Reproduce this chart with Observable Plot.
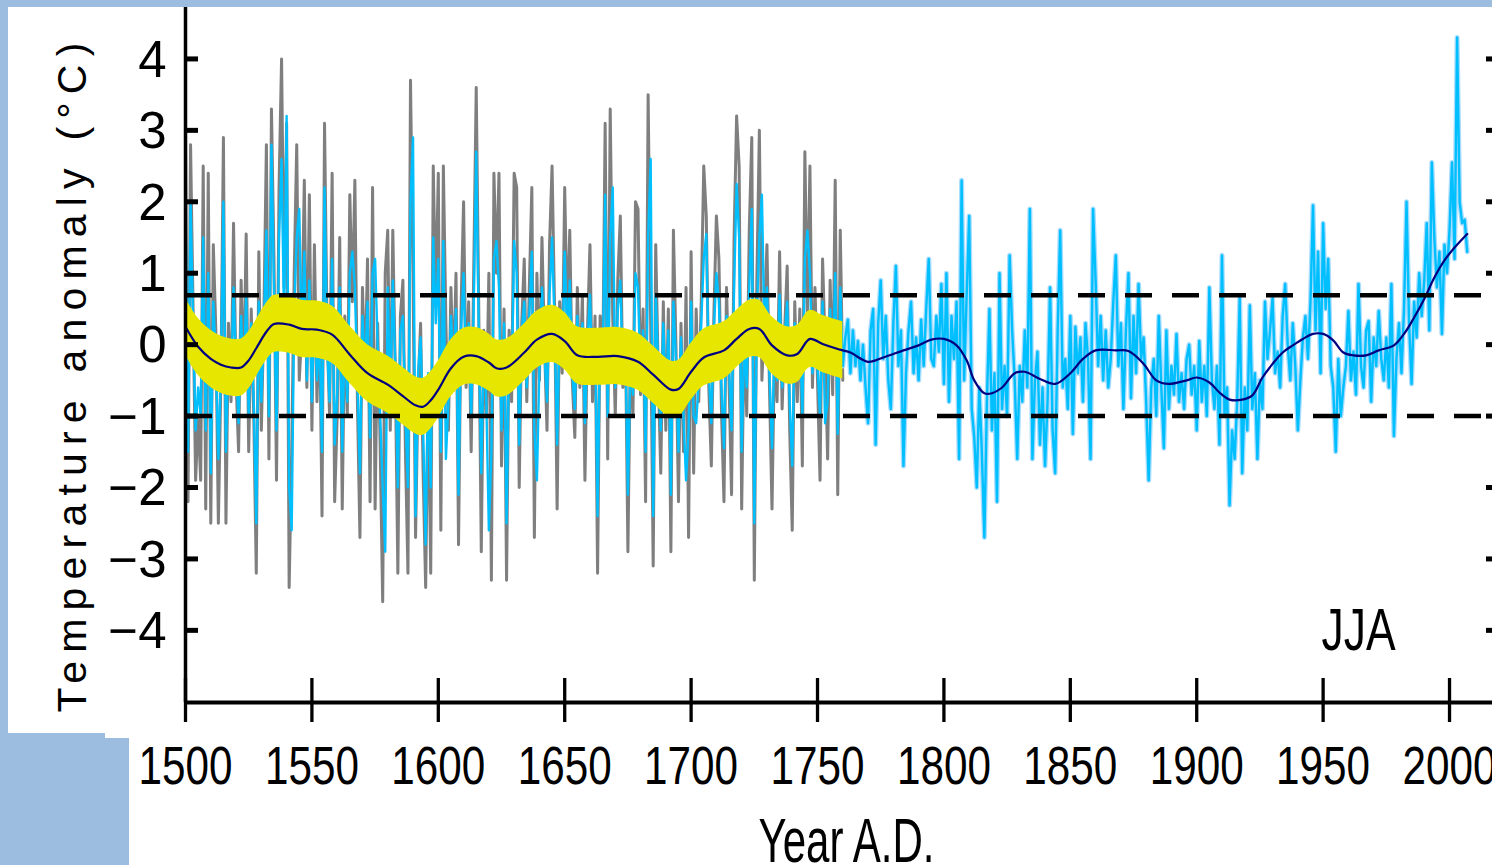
<!DOCTYPE html>
<html><head><meta charset="utf-8">
<script src="https://cdn.jsdelivr.net/npm/d3@7"></script>
<script src="https://cdn.jsdelivr.net/npm/@observablehq/plot@0.6"></script>
<style>
html,body{margin:0;padding:0;background:#fff;width:1492px;height:865px;overflow:hidden;position:relative}
#chart{position:absolute;left:0;top:0}
.edge{position:absolute;background:#9dbde0;z-index:2}
</style></head><body>
<div id="chart"></div>
<div class="edge" style="left:0;top:0;width:1492px;height:7px"></div>
<div class="edge" style="left:0;top:0;width:8px;height:865px"></div>
<div class="edge" style="left:0;top:733px;width:105px;height:132px"></div>
<div class="edge" style="left:105px;top:738px;width:24px;height:127px"></div>
<script>
const startYear = 1500;

// grey annual series 1500-1760
const greyValues = [
 2.9,-2.2,2.8,0.5,-1.9,-1.0,-1.9,2.5,-2.3,2.4,
 -2.5,1.4,0.2,-2.5,-0.5,2.9,-2.5,0.3,-0.8,1.7,
 -0.5,-1.5,0.9,-0.6,1.55,-1.5,0.5,-1.0,-3.2,1.3,
 -1.2,0.4,2.8,-1.6,3.3,1.2,-1.9,2.2,4.0,0.8,
 3.1,-3.4,-1.5,1.0,2.8,-0.5,0.2,2.3,-0.6,2.1,
 -1.2,1.4,-0.8,0.5,-2.4,3.1,0.2,-1.0,2.4,-2.2,
 -1.0,1.5,-2.3,0.4,-1.0,2.1,0.6,2.3,-0.8,-2.7,
 0.8,-0.5,1.2,-2.2,2.2,-2.3,0.3,-1.4,-3.6,1.0,
 1.6,-1.2,1.6,-0.4,-3.2,0.4,0.9,-1.5,-3.2,3.7,
 1.0,-2.7,-0.6,0.3,-1.8,-3.4,-0.5,-3.2,2.5,0.6,
 2.4,-2.6,2.5,0.3,-1.2,0.8,-0.5,1.0,-2.8,0.5,
 2.0,-0.6,0.6,-1.5,1.0,3.6,0.5,-2.9,0.2,-1.0,
 1.0,-3.3,2.4,1.0,2.4,-1.7,0.5,-3.3,0.2,-0.8,
 2.4,2.2,-2.0,0.3,1.2,-0.8,0.8,2.2,-2.7,1.0,
 -0.5,1.5,0.0,-1.2,1.4,2.5,0.5,-2.3,0.6,-0.4,
 2.2,0.3,1.6,-0.5,-1.3,0.8,-0.6,0.7,-1.9,0.2,
 1.4,-0.8,0.4,-3.2,0.4,-0.5,3.1,-1.6,3.3,0.4,
 -1.0,0.9,1.8,-0.6,0.2,-2.9,0.0,-1.0,2.0,1.9,
 -0.7,0.5,-2.2,3.5,0.3,-3.1,1.4,-0.4,-1.8,0.6,
 -1.2,0.5,-2.9,1.6,0.0,-2.2,0.3,-1.5,0.8,-2.7,
 1.3,-1.8,0.5,-0.8,0.6,2.5,1.8,-0.6,-1.7,0.4,
 1.8,1.2,-0.9,-2.2,0.8,-0.5,-2.1,1.5,3.2,2.5,
 -2.3,0.2,-1.0,1.6,2.9,-3.3,0.9,3.0,-0.5,0.4,
 1.4,-0.6,-2.3,0.0,-0.8,1.3,-0.9,0.2,1.1,-1.2,
 -2.6,0.6,-0.8,0.5,-1.7,2.7,0.4,2.5,-0.6,0.8,
 -0.5,-1.9,1.2,0.0,-1.6,0.9,-0.7,2.3,-2.1,1.6,
 -0.5
];

// blue annual series 1500-2007
const blueValues = [
 2.0,-1.5,2.0,0.3,-1.2,-0.6,-1.0,1.5,-1.2,1.0,
 -1.8,0.6,-0.2,-1.6,-0.4,2.0,-1.5,0.0,-0.6,0.8,
 -0.3,-1.1,0.4,-0.5,0.7,-1.0,0.3,-0.8,-2.5,0.6,
 -0.8,0.2,1.6,-1.0,2.8,0.8,-1.2,1.5,2.6,0.3,
 3.2,-2.0,-2.6,0.5,1.5,1.9,0.0,1.3,-0.5,0.9,
 -0.8,0.6,-0.5,0.2,-1.5,2.2,0.0,-0.8,1.2,-1.4,
 -0.7,0.8,-1.5,0.2,-0.8,1.0,1.3,0.8,-0.5,-1.8,
 0.4,-0.4,0.6,-1.3,1.0,1.2,0.0,-1.0,-2.0,-2.9,
 0.8,-0.8,0.9,-0.3,-2.0,0.2,0.4,-1.0,-2.0,2.0,
 2.9,-2.4,-0.4,0.1,-1.2,-2.8,-0.4,-2.0,1.5,0.3,
 1.2,-1.5,1.45,-1.6,-0.8,0.4,-0.3,0.5,-2.1,0.2,
 1.0,-0.4,0.3,-1.0,0.5,2.7,0.2,-1.8,0.0,-0.8,
 -2.6,-1.5,1.2,1.45,0.8,-1.2,0.3,-2.5,0.0,-0.6,
 1.45,1.0,-1.4,0.2,0.6,-0.6,0.4,1.3,-1.2,-1.9,
 -0.3,0.8,-0.1,-0.8,0.7,1.5,0.3,-1.4,0.3,-0.3,
 1.3,0.1,0.9,-0.4,-0.9,0.4,-0.4,0.3,-1.1,0.0,
 0.7,-0.5,0.2,-2.4,0.2,-0.4,2.1,-1.0,1.5,2.2,
 -0.6,0.5,0.9,-0.4,0.0,-2.1,-0.2,-0.7,1.0,0.8,
 -0.5,0.2,-1.5,1.5,2.6,-2.4,0.7,-0.3,-1.2,0.3,
 -0.8,0.2,-2.1,0.6,-0.2,-1.5,0.1,-1.0,-1.9,-1.2,
 0.6,-1.0,-1.1,-0.5,0.3,1.2,1.55,-0.4,-1.1,0.2,
 1.0,0.6,-0.6,-1.45,0.4,-0.3,-1.2,0.8,2.25,1.5,
 -1.5,0.0,-0.6,0.8,1.9,-2.5,0.4,1.5,2.1,0.2,
 0.8,-0.4,-1.45,0.0,-0.5,0.7,-0.6,0.1,0.6,-0.8,
 -1.7,0.3,-0.5,0.3,-1.0,1.2,1.6,1.0,-0.4,0.4,
 -0.3,-1.0,0.6,-1.1,-0.8,0.5,-0.4,1.0,-1.25,0.8,
 -0.3,0.1,0.35,-0.4,0.2,-0.3,0.05,-0.5,0.0,-0.6,
 -1.1,0.2,0.5,-1.4,0.3,0.9,-0.2,0.4,-0.5,-0.9,
 0.3,1.1,-0.3,0.2,-1.7,-0.4,0.2,0.6,-0.4,0.1,
 -0.5,0.35,-0.3,0.5,1.2,-0.2,-0.3,0.4,-0.1,0.85,
 -0.55,1.0,-0.8,0.4,-0.2,0.6,-1.6,2.3,-0.5,0.7,
 1.8,-0.9,-1.3,-2.0,-0.6,-1.5,-2.7,-0.8,0.5,-1.2,
 -0.4,-2.2,1.0,-0.9,-0.3,-1.0,1.25,0.2,-0.5,-1.6,
 -0.3,-0.8,0.2,-0.6,1.9,-1.6,-0.5,-0.1,-1.4,-0.6,
 -1.7,-0.8,0.8,-1.2,-1.8,0.2,1.6,-0.6,-0.2,-0.9,
 0.4,-1.25,0.25,-0.4,0.1,-0.8,0.3,-0.2,-1.6,1.9,
 0.9,-0.3,0.4,-0.5,0.2,-0.6,-0.2,0.6,1.25,-0.3,
 0.3,-0.9,0.2,1.0,-0.75,0.4,-0.4,0.85,-0.2,0.1,
 -0.8,-1.9,-0.6,-0.2,-1.0,0.4,-0.6,-1.45,0.2,-0.9,
 -0.3,-0.7,0.15,-0.8,-0.4,-0.9,-0.2,0.0,-0.7,-0.3,
 -1.2,0.05,-0.8,-0.3,-1.0,0.8,-0.5,-0.9,-0.3,-1.4,
 1.25,-1.0,-0.6,-2.25,-1.2,-1.6,-0.8,0.65,-1.8,-0.6,
 -1.2,0.55,-0.9,-0.4,-1.6,-0.5,-0.9,0.6,-0.2,0.2,
 0.65,-0.4,-0.1,-0.6,0.4,0.85,0.0,-0.5,0.3,-0.3,
 -1.2,-0.5,0.1,0.4,-0.2,0.6,1.95,0.2,1.3,-0.4,
 1.7,0.5,1.2,-0.3,-0.6,-1.5,-0.2,-1.0,-0.6,-0.3,
 0.47,-0.5,-0.1,-0.7,0.85,-0.3,-0.6,0.2,0.33,-0.8,
 0.1,-0.3,0.47,-0.2,-0.5,0.1,-0.6,0.85,-1.28,-0.2,
 0.3,-0.4,0.5,2.0,0.3,-0.55,0.6,0.1,1.0,0.4,
 0.9,1.7,0.2,2.55,1.5,0.8,1.3,0.15,1.4,1.0,
 1.6,2.55,1.2,4.3,2.0,1.7,1.75,1.3
];

// smoothed curve
const smoothYears = [1500,1505,1510,1514,1518,1522,1525,1528,1532,1535,1541,1546,1552,1558,1565,1572,1580,1586,1591,1594,1597,1600,1605,1610,1615,1620,1623,1627,1634,1639,1645,1650,1655,1663,1671,1679,1685,1692,1695,1700,1705,1713,1718,1723,1727,1732,1738,1742,1747,1752,1758,1760,1763,1770,1776,1784,1790,1795,1800,1805,1809,1812,1816,1819,1823,1828,1832,1838,1844,1850,1855,1860,1868,1873,1879,1884,1889,1896,1900,1905,1909,1913,1918,1922,1926,1930,1934,1938,1942,1946,1950,1954,1958,1962,1967,1972,1978,1982,1986,1990,1994,1998,2002,2007];
const smoothValues = [0.25,-0.03,-0.2,-0.28,-0.32,-0.32,-0.22,-0.05,0.18,0.29,0.28,0.22,0.21,0.14,-0.14,-0.40,-0.56,-0.72,-0.85,-0.87,-0.78,-0.63,-0.33,-0.17,-0.16,-0.25,-0.33,-0.32,-0.11,0.07,0.15,0.05,-0.15,-0.17,-0.16,-0.24,-0.42,-0.63,-0.62,-0.38,-0.18,-0.08,0.08,0.22,0.22,-0.01,-0.15,-0.13,0.08,0.01,-0.06,-0.08,-0.11,-0.24,-0.18,-0.08,-0.01,0.07,0.08,-0.01,-0.22,-0.50,-0.68,-0.68,-0.60,-0.40,-0.38,-0.48,-0.55,-0.40,-0.20,-0.08,-0.08,-0.09,-0.27,-0.50,-0.55,-0.50,-0.46,-0.53,-0.67,-0.77,-0.77,-0.71,-0.46,-0.27,-0.11,-0.01,0.08,0.15,0.15,0.06,-0.11,-0.15,-0.15,-0.08,-0.01,0.15,0.38,0.64,0.94,1.18,1.36,1.55];
const bandHalfWidth = 0.4;
const bandEndYear = 1760;
const haloStartYear = 1760;

const xTicks = [1500,1550,1600,1650,1700,1750,1800,1850,1900,1950,2000];
const xTickLabels = ["1500","1550","1600","1650","1700","1750","1800","1850","1900","1950","2000"];
const yTicks = [4,3,2,1,0,-1,-2,-3,-4];
const yTickLabels = ["4","3","2","1","0","\u22121","\u22122","\u22123","\u22124"];
const dashedLevels = [0.69, -1.0];
const xDomain = [1500, 2017];
const yDomain = [-5.01, 4.72];
const seasonLabel = "JJA";
const seasonPos = {year: 1964, value: -4.27};
const xLabel = "Year A.D.";
const yLabel = "Temperature anomaly (\u00B0C)";

const greyData = greyValues.map((v, i) => ({year: startYear + i, value: v}));
const blueData = blueValues.map((v, i) => ({year: startYear + i, value: v}));
const smoothData = smoothYears.map((y, i) => ({year: y, value: smoothValues[i]}));
const bandData = smoothData.filter(d => d.year <= bandEndYear);

const font = "'Liberation Sans', Arial, Helvetica, sans-serif";

const plot = Plot.plot({
  width: 1492, height: 865,
  marginLeft: 185, marginRight: 0, marginTop: 7, marginBottom: 163,
  x: {domain: xDomain, axis: null},
  y: {domain: yDomain, axis: null},
  style: {background: "transparent", fontFamily: font, color: "black", overflow: "visible"},
  marks: [
    Plot.line(greyData, {x: "year", y: "value", stroke: "#7f7f7f", strokeWidth: 3}),
    Plot.line(blueData.filter(d => d.year >= haloStartYear), {x: "year", y: "value", stroke: "#a8ddff", strokeWidth: 5}),
    Plot.line(blueData, {x: "year", y: "value", stroke: "#00bfff", strokeWidth: 2.4}),
    Plot.areaY(bandData, {x: "year", y1: d => d.value - bandHalfWidth, y2: d => d.value + bandHalfWidth, fill: "#e6e600", curve: "catmull-rom"}),
    Plot.line(smoothData, {x: "year", y: "value", stroke: "#000080", strokeWidth: 2.2, curve: "catmull-rom"}),
    Plot.ruleY(dashedLevels, {stroke: "black", strokeWidth: 4.5, strokeDasharray: "27,20"}),
    Plot.ruleX([xDomain[0]], {stroke: "black", strokeWidth: 3.5}),
    Plot.ruleY([yDomain[0]], {stroke: "black", strokeWidth: 4}),
    Plot.ruleX(xTicks, {y1: yDomain[0], y2: yDomain[0], insetTop: -24, insetBottom: -20, stroke: "black", strokeWidth: 3.3}),
    Plot.ruleY(yTicks, {x1: xDomain[0], x2: xDomain[0], insetRight: -13, stroke: "black", strokeWidth: 5}),
    Plot.ruleY(yTicks, {x1: xDomain[1], x2: xDomain[1], insetLeft: -6, stroke: "black", strokeWidth: 5}),
    Plot.text(yTicks, {x: xDomain[0], y: d => d, text: (d, i) => yTickLabels[i], textAnchor: "end", dx: -19, dy: 1.5, fontSize: 51, fill: "black"}),
    Plot.text(xTicks, {x: d => d, y: yDomain[0], text: (d, i) => xTickLabels[i], lineAnchor: "bottom", dy: 81, fontSize: 54, fill: "black"}),
    Plot.text([seasonLabel], {x: seasonPos.year, y: seasonPos.value, text: d => d, lineAnchor: "bottom", fontSize: 60, fill: "black"}),
    Plot.text([xLabel], {frameAnchor: "bottom", text: d => d, textAnchor: "middle", lineAnchor: "bottom", dx: 7.5, dy: 159, fontSize: 63, fill: "black"}),
    Plot.text([yLabel], {frameAnchor: "left", text: d => d, rotate: -90, textAnchor: "middle", lineAnchor: "bottom", dx: -100, dy: 18.5, fontSize: 41, fill: "black"})
  ]
});

d3.select(plot).selectAll("text").each(function() {
  const t = this.textContent;
  if (xTickLabels.includes(t)) {
    this.setAttribute("textLength", 94);
    this.setAttribute("lengthAdjust", "spacingAndGlyphs");
  } else if (t === seasonLabel) {
    this.setAttribute("textLength", 74);
    this.setAttribute("lengthAdjust", "spacingAndGlyphs");
  } else if (t === xLabel) {
    this.setAttribute("textLength", 176);
    this.setAttribute("lengthAdjust", "spacingAndGlyphs");
  } else if (t === yLabel) {
    this.style.letterSpacing = "8.2px";
  }
});

document.getElementById("chart").appendChild(plot);
</script>
</body></html>
